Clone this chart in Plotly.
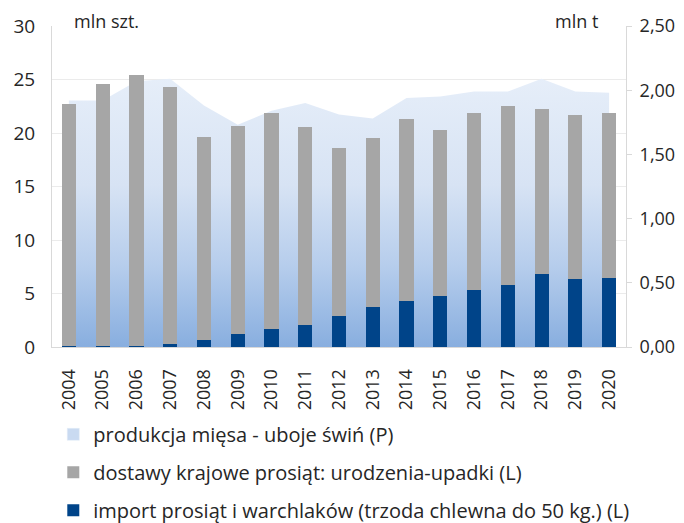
import plotly.graph_objects as go

years = [str(y) for y in range(2004, 2021)]
# right axis: meat production (mln t)
production = [1.92, 1.92, 2.07, 2.09, 1.88, 1.73, 1.84, 1.90, 1.81, 1.78,
              1.94, 1.95, 1.99, 1.99, 2.09, 1.99, 1.98]
# left axis: totals of stacked bars (mln szt.)
totals = [22.7, 24.6, 25.4, 24.3, 19.6, 20.7, 21.9, 20.6, 18.6, 19.5,
          21.3, 20.3, 21.9, 22.5, 22.2, 21.7, 21.9]
imports = [0.12, 0.12, 0.12, 0.28, 0.61, 1.23, 1.72, 2.09, 2.91, 3.71,
           4.26, 4.75, 5.31, 5.77, 6.78, 6.32, 6.41]
domestic = [round(t - i, 2) for t, i in zip(totals, imports)]

left_ticks = [0, 5, 10, 15, 20, 25, 30]
right_ticks = [0, 0.5, 1.0, 1.5, 2.0, 2.5]
right_labels = ["0,00", "0,50", "1,00", "1,50", "2,00", "2,50"]

names = ["produkcja mięsa - uboje świń (P)",
         "dostawy krajowe prosiąt: urodzenia-upadki (L)",
         "import prosiąt i warchlaków (trzoda chlewna do 50 kg.) (L)"]

FONT = "Open Sans"
TXT = "#262626"

fig = go.Figure()
fig.add_trace(go.Scatter(
    x=years, y=production, name=names[0], mode="none", fill="tozeroy",
    fillgradient=dict(type="vertical", start=0, stop=2.1,
                      colorscale=[[0, "#88aedf"], [0.3, "#b6cdec"],
                                  [0.6, "#d7e3f4"], [1, "#e6eef9"]]),
    yaxis="y", showlegend=False, hoverinfo="x+y"))
# legend swatch for the area series
fig.add_trace(go.Bar(
    x=[years[0]], y=[None], name=names[0], marker=dict(color="#c9daf1"),
    yaxis="y", legendrank=1, legendgroup="a"))
fig.add_trace(go.Bar(
    x=years, y=imports, name=names[2], marker=dict(color="#004489", line=dict(width=0)),
    yaxis="y2", legendrank=3, legendgroup="c"))
fig.add_trace(go.Bar(
    x=years, y=domestic, name=names[1], marker=dict(color="#a6a6a6", line=dict(width=0)),
    yaxis="y2", legendrank=2, legendgroup="b"))

# page body adds an 8px margin, so the figure is 8px smaller than the window
fig.update_layout(
    width=676, height=515,
    margin=dict(l=44, r=58, t=18, b=175.5, autoexpand=False),
    paper_bgcolor="white", plot_bgcolor="white",
    barmode="stack", bargap=0.58,
    font=dict(family=FONT, size=18, color=TXT),
    showlegend=True,
    legend=dict(orientation="v", xref="container", yref="container",
                x=0.067, xanchor="left", y=0.21, yanchor="top",
                font=dict(family=FONT, size=20, color=TXT),
                tracegroupgap=9, itemwidth=30, bgcolor="rgba(0,0,0,0)"),
    xaxis=dict(type="category", tickangle=-90, showline=True, linecolor="#d9d9d9",
               ticks="outside", ticklen=14, tickcolor="rgba(0,0,0,0)", automargin=False,
               tickfont=dict(family=FONT, size=18, color=TXT), showgrid=False),
    yaxis=dict(side="right", range=[0, 2.5], tickvals=right_ticks, ticktext=right_labels,
               showline=True, linecolor="#d9d9d9", ticks="outside", ticklen=5,
               tickcolor="#d9d9d9", showgrid=False, zeroline=False, automargin=False,
               ticklabelstandoff=4,
               tickfont=dict(family=FONT, size=18, color=TXT)),
    yaxis2=dict(side="left", overlaying="y", range=[0, 30], tickvals=left_ticks,
                showline=True, linecolor="#d9d9d9", showgrid=True, gridcolor="#ebebeb",
                ticks="outside", ticklen=12, tickcolor="rgba(0,0,0,0)", zeroline=False,
                automargin=False,
                tickfont=dict(family=FONT, size=19, color=TXT)),
    annotations=[
        dict(text="mln szt.", xref="paper", yref="paper", x=0.035, y=1.0,
             xanchor="left", yanchor="bottom", showarrow=False, yshift=-9,
             font=dict(family=FONT, size=18, color=TXT)),
        dict(text="mln t", xref="paper", yref="paper", x=0.955, y=1.0,
             xanchor="right", yanchor="bottom", showarrow=False, yshift=-9,
             font=dict(family=FONT, size=18, color=TXT)),
    ],
)

fig.write_html("out.html")
